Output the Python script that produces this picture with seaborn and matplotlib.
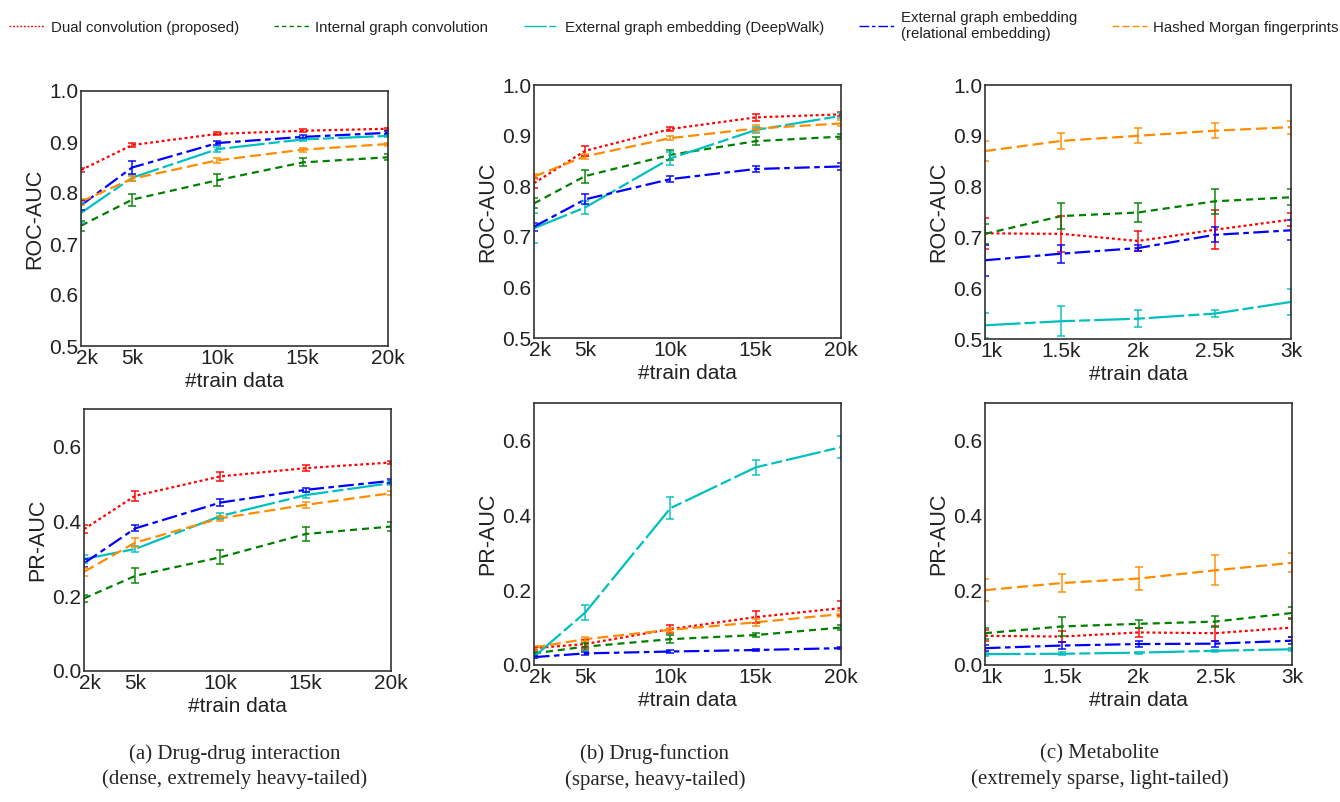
import numpy as np
import pandas as pd
import seaborn as sns
import matplotlib
matplotlib.use('Agg')
import matplotlib.pyplot as plt
import matplotlib.transforms as mtransforms
from matplotlib.lines import Line2D

sns.set_style('white')
plt.rcParams['font.family'] = ['Liberation Sans', 'DejaVu Sans']

methods = ['Dual convolution (proposed)', 'Internal graph convolution',
           'External graph embedding (DeepWalk)',
           'External graph embedding\n(relational embedding)',
           'Hashed Morgan fingerprints']
colors = ['#ff0000', '#008000', '#00bfbf', '#0000ff', '#ff8c00']
dash_styles = [(1.3, 1.3), (3.2, 2.2), (16, 1.8, 5, 1.8), (7, 2, 2.5, 2), (5, 2.2)]

x_big = [2000, 5000, 10000, 15000, 20000]
x_big_labels = ['2k', '5k', '10k', '15k', '20k']
x_small = [1000, 1500, 2000, 2500, 3000]
x_small_labels = ['1k', '1.5k', '2k', '2.5k', '3k']

# (a) drug-drug interaction, ROC-AUC  [red, green, cyan, blue, orange]
roc_a = [[0.845, 0.894, 0.916, 0.922, 0.926],
         [0.736, 0.787, 0.825, 0.860, 0.870],
         [0.761, 0.830, 0.886, 0.905, 0.912],
         [0.776, 0.850, 0.898, 0.910, 0.918],
         [0.783, 0.828, 0.864, 0.885, 0.896]]
roc_a_err = [[0.004, 0.004, 0.003, 0.003, 0.002],
             [0.010, 0.012, 0.012, 0.008, 0.006],
             [0.020, 0.006, 0.005, 0.003, 0.003],
             [0.010, 0.013, 0.004, 0.003, 0.003],
             [0.006, 0.005, 0.005, 0.004, 0.003]]
pr_a = [[0.379, 0.468, 0.520, 0.542, 0.557],
        [0.194, 0.254, 0.304, 0.366, 0.386],
        [0.299, 0.326, 0.414, 0.470, 0.502],
        [0.288, 0.381, 0.450, 0.484, 0.508],
        [0.265, 0.343, 0.408, 0.444, 0.475]]
pr_a_err = [[0.010, 0.013, 0.013, 0.008, 0.005],
            [0.010, 0.020, 0.018, 0.020, 0.012],
            [0.010, 0.008, 0.008, 0.008, 0.006],
            [0.010, 0.008, 0.010, 0.006, 0.005],
            [0.010, 0.012, 0.006, 0.008, 0.005]]

# (b) drug-function
roc_b = [[0.806, 0.870, 0.913, 0.936, 0.942],
         [0.766, 0.820, 0.862, 0.889, 0.898],
         [0.717, 0.758, 0.855, 0.911, 0.939],
         [0.720, 0.774, 0.814, 0.834, 0.839],
         [0.819, 0.859, 0.895, 0.914, 0.924]]
roc_b_err = [[0.010, 0.010, 0.004, 0.007, 0.004],
             [0.010, 0.013, 0.010, 0.008, 0.005],
             [0.030, 0.013, 0.013, 0.006, 0.005],
             [0.008, 0.010, 0.006, 0.005, 0.006],
             [0.005, 0.005, 0.004, 0.006, 0.006]]
pr_b = [[0.045, 0.056, 0.096, 0.128, 0.152],
        [0.031, 0.049, 0.069, 0.080, 0.100],
        [0.022, 0.140, 0.419, 0.528, 0.582],
        [0.021, 0.031, 0.036, 0.040, 0.045],
        [0.047, 0.069, 0.094, 0.114, 0.136]]
pr_b_err = [[0.004, 0.010, 0.010, 0.015, 0.020],
            [0.004, 0.010, 0.010, 0.005, 0.007],
            [0.004, 0.020, 0.030, 0.020, 0.030],
            [0.003, 0.003, 0.003, 0.003, 0.003],
            [0.004, 0.006, 0.006, 0.010, 0.008]]

# (c) metabolite
roc_c = [[0.708, 0.707, 0.693, 0.715, 0.735],
         [0.707, 0.742, 0.749, 0.771, 0.779],
         [0.527, 0.535, 0.540, 0.550, 0.573],
         [0.655, 0.668, 0.679, 0.705, 0.714],
         [0.870, 0.890, 0.900, 0.910, 0.917]]
roc_c_err = [[0.030, 0.035, 0.020, 0.038, 0.013],
             [0.020, 0.025, 0.018, 0.025, 0.016],
             [0.025, 0.030, 0.017, 0.007, 0.025],
             [0.030, 0.018, 0.006, 0.015, 0.020],
             [0.020, 0.016, 0.015, 0.015, 0.013]]
pr_c = [[0.078, 0.076, 0.087, 0.085, 0.100],
        [0.085, 0.103, 0.110, 0.116, 0.139],
        [0.029, 0.030, 0.033, 0.038, 0.042],
        [0.045, 0.052, 0.056, 0.057, 0.065],
        [0.200, 0.219, 0.231, 0.253, 0.273]]
pr_c_err = [[0.015, 0.015, 0.012, 0.020, 0.025],
            [0.015, 0.025, 0.010, 0.015, 0.015],
            [0.004, 0.004, 0.003, 0.003, 0.004],
            [0.008, 0.010, 0.007, 0.008, 0.010],
            [0.030, 0.025, 0.030, 0.040, 0.025]]

captions = ['(a) Drug-drug interaction\n(dense, extremely heavy-tailed)',
            '(b) Drug-function\n(sparse, heavy-tailed)',
            '(c) Metabolite\n(extremely sparse, light-tailed)']

W, H = 1340, 802
fig = plt.figure(figsize=(W / 100, H / 100), dpi=100)

# axes boxes in pixels: left, top, right, bottom
boxes = [[(81, 91, 388, 346), (534, 85, 841, 338), (985, 85, 1291, 339)],
         [(84, 409, 391, 671), (534, 403, 841, 665), (985, 403, 1292, 665)]]

panels = [
    [(x_big, x_big_labels, roc_a, roc_a_err), (x_big, x_big_labels, roc_b, roc_b_err),
     (x_small, x_small_labels, roc_c, roc_c_err)],
    [(x_big, x_big_labels, pr_a, pr_a_err), (x_big, x_big_labels, pr_b, pr_b_err),
     (x_small, x_small_labels, pr_c, pr_c_err)],
]

for r in range(2):
    for c in range(3):
        l, t, rr, b = boxes[r][c]
        ax = fig.add_axes([l / W, 1 - b / H, (rr - l) / W, (b - t) / H])
        xs, xlabels, vals, errs = panels[r][c]
        rows = []
        for m, v in zip(methods, vals):
            for xv, yv in zip(xs, v):
                rows.append({'x': xv, 'y': yv, 'method': m})
        df = pd.DataFrame(rows)
        sns.lineplot(data=df, x='x', y='y', hue='method', style='method',
                     palette=dict(zip(methods, colors)),
                     dashes=dict(zip(methods, dash_styles)),
                     linewidth=1.6, legend=False, ax=ax)
        for v, e, col in zip(vals, errs, colors):
            ax.errorbar(xs, v, yerr=e, fmt='none', ecolor=col, elinewidth=1.3,
                        capsize=3, capthick=1.3, alpha=0.8)
        ax.set_xlim(xs[0], xs[-1])
        ax.set_xticks(xs)
        ax.set_xticklabels(xlabels)
        if r == 0:
            ax.set_ylim(0.5, 1.0)
            ax.set_yticks([0.5, 0.6, 0.7, 0.8, 0.9, 1.0])
            ax.set_ylabel('ROC-AUC', fontsize=15.5, color='#222222')
        else:
            ax.set_ylim(0.0, 0.7)
            ax.set_yticks([0.0, 0.2, 0.4, 0.6])
            ax.set_ylabel('PR-AUC', fontsize=15.5, color='#222222')
        ax.set_xlabel('#train data', fontsize=15, labelpad=3, color='#222222')
        ax.tick_params(labelsize=15, pad=2, length=0, labelcolor='#222222')
        ax.yaxis.labelpad = 3
        # first x label sits a little to the right of the axis corner
        first = ax.get_xticklabels()[0]
        first.set_transform(first.get_transform() +
                            mtransforms.ScaledTranslation(6 / 100, 0, fig.dpi_scale_trans))
        for s in ax.spines.values():
            s.set_color('#333333')
            s.set_linewidth(1.2)

handles = [Line2D([], [], color=col, lw=1, dashes=d) for col, d in zip(colors, dash_styles)]
fig.legend(handles, methods, loc='upper left', bbox_to_anchor=(-0.003, 1.003), ncol=5,
           frameon=False, fontsize=10.8, handlelength=2.3, handletextpad=0.45,
           columnspacing=2.35, labelcolor='#222222')

for cx, cap in zip([235, 655, 1100], captions):
    fig.text(cx / W, 1 - 744 / H, cap, ha='center', va='top', fontsize=15,
             family=['Liberation Serif', 'DejaVu Serif'], linespacing=1.4)

fig.savefig('out.png', dpi=100)
